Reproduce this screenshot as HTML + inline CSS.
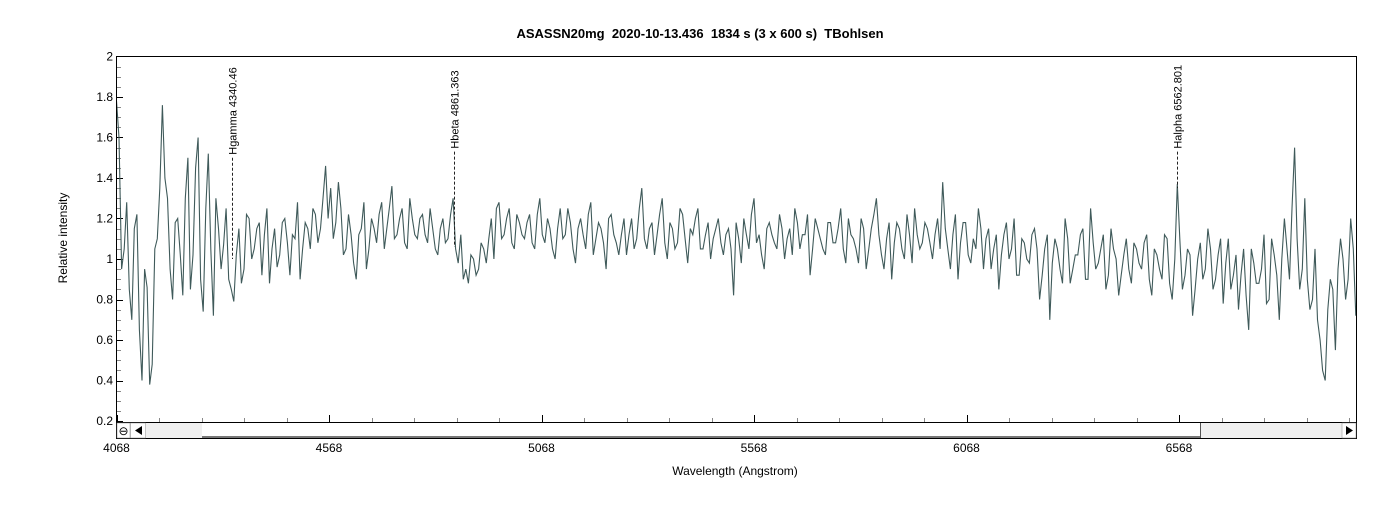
<!DOCTYPE html>
<html><head><meta charset="utf-8"><style>
body{margin:0;background:#fff;font-family:"Liberation Sans",sans-serif}
svg text{font-family:"Liberation Sans",sans-serif}
</style></head><body>
<svg id="c" width="1400" height="500" xmlns="http://www.w3.org/2000/svg">
<text x="700" y="38" text-anchor="middle" font-size="13" font-weight="bold" style="white-space:pre">ASASSN20mg  2020-10-13.436  1834 s (3 x 600 s)  TBohlsen</text>
<text transform="translate(67,238) rotate(-90)" text-anchor="middle" font-size="12">Relative intensity</text>
<text x="735" y="475" text-anchor="middle" font-size="12">Wavelength (Angstrom)</text>
<defs><clipPath id="pc"><rect x="117" y="57" width="1239" height="365"/></clipPath></defs>
<g id="axes"></g>
<g id="series" clip-path="url(#pc)"></g>
<g id="markers"></g>
<rect x="116.5" y="56.5" width="1240" height="382" fill="none" stroke="#000"/>
<g>
<line x1="116" y1="422.5" x2="1357" y2="422.5" stroke="#000"/>
<rect x="146" y="423" width="56" height="15" fill="#f0f0f0"/>
<rect x="1201" y="423" width="141" height="15" fill="#f0f0f0"/>
<line x1="202" y1="437" x2="1201" y2="437" stroke="#777" stroke-width="2"/>
<line x1="1200.5" y1="423" x2="1200.5" y2="438" stroke="#555"/>
<rect x="117" y="423" width="13" height="15" fill="#fff" stroke="#888" stroke-width="0.5"/>
<text x="123.5" y="435" text-anchor="middle" font-size="12">⊖</text>
<rect x="130.5" y="423" width="15" height="15" fill="#fff" stroke="#888" stroke-width="0.5"/>
<polygon points="135,430.5 142,426 142,435" fill="#000"/>
<rect x="1342" y="423" width="14" height="15" fill="#fff" stroke="#888" stroke-width="0.5"/>
<polygon points="1353,430.5 1346,426 1346,435" fill="#000"/>
</g>
</svg>
<script>
const wlStart = 4068;
const wlStep = 6;
const intensities = [
1.78,0.95,1.28,0.70,1.22,0.40,0.86,0.48,1.10,1.76,1.30,0.80,1.20,0.82,1.50,1.02,1.60,0.74,1.52,0.72,
1.15,1.07,0.90,0.79,1.15,0.95,1.20,1.05,1.18,1.12,0.88,1.15,1.02,1.20,0.92,1.10,0.90,1.18,1.05,1.22,
1.15,1.46,1.35,1.18,1.25,1.05,1.12,0.90,1.15,0.95,1.20,1.08,1.28,1.15,1.36,1.12,1.25,1.05,1.20,1.10,
1.22,1.08,1.15,1.02,1.20,1.10,1.30,0.98,0.90,0.88,1.00,0.95,1.05,1.10,1.00,1.28,1.12,1.25,1.05,1.18,
1.10,1.22,1.05,1.30,1.08,1.15,1.00,1.25,1.12,1.18,0.98,1.20,1.05,1.28,1.10,1.15,0.95,1.22,1.08,1.12,
1.02,1.20,1.10,1.35,1.05,1.18,1.12,1.30,1.00,1.15,1.08,1.22,0.98,1.12,1.25,1.05,1.18,1.10,1.20,1.02,
1.15,0.82,1.10,1.20,1.05,1.30,1.12,0.95,1.18,1.08,1.22,1.00,1.15,1.25,1.05,1.12,0.92,1.20,1.10,1.02,
1.18,1.08,1.25,0.98,1.12,1.05,1.20,0.95,1.15,1.30,1.02,1.10,0.90,1.18,1.05,1.22,0.98,1.12,1.08,1.15,
1.00,1.20,1.38,1.05,1.12,0.90,1.18,1.02,1.10,1.25,0.95,1.15,1.05,0.85,1.12,1.00,1.20,0.92,1.08,0.98,
1.15,0.80,1.05,0.70,1.10,0.95,1.20,0.88,1.02,1.12,0.90,1.25,0.95,1.05,0.85,1.15,1.00,0.92,1.10,0.88,
1.05,0.95,1.12,0.82,1.02,0.90,1.10,0.80,1.37,0.85,1.05,0.72,1.00,0.90,1.15,0.85,1.02,0.78,1.10,0.92,
0.75,1.05,0.65,0.98,0.88,1.12,0.80,1.02,0.70,1.20,0.90,1.55,0.85,1.30,0.75,1.05,0.60,0.40,0.90,0.55,
1.10,0.80,1.20,0.72
];
const intensitiesMid = [
1.60,1.05,0.85,1.15,0.65,0.95,0.38,1.05,1.35,1.40,0.95,1.18,1.02,1.30,0.85,1.45,0.90,1.25,1.05,1.30,
0.95,1.25,0.85,1.02,0.88,1.22,1.00,1.15,0.92,1.25,1.05,0.96,1.18,1.08,1.12,1.28,1.05,1.15,1.25,1.08,
1.30,1.20,1.10,1.38,1.02,1.22,0.98,1.12,1.28,1.05,1.15,1.22,1.05,1.25,1.10,1.20,1.08,1.30,1.12,1.20,
1.12,1.25,1.05,1.15,1.08,1.22,1.05,1.12,0.95,1.02,0.92,1.08,0.98,1.20,1.25,1.10,1.20,1.08,1.22,1.12,
1.18,1.08,1.22,1.12,1.20,1.05,1.15,1.10,1.25,1.05,1.15,1.12,1.22,1.02,1.18,1.08,1.20,1.12,1.02,1.20,
1.12,1.05,1.25,1.10,1.15,1.02,1.22,1.08,1.18,1.05,1.25,1.10,1.15,1.20,1.05,1.12,1.00,1.15,1.08,1.12,
1.05,1.18,0.98,1.12,1.22,1.08,1.02,1.15,1.12,1.05,1.15,1.10,1.02,1.18,1.12,1.22,1.05,1.15,1.05,1.18,
1.08,1.15,1.05,1.20,1.10,0.98,1.15,1.05,1.22,1.12,0.95,1.18,1.08,1.15,1.00,1.12,1.25,1.05,1.18,1.08,
1.12,1.05,1.15,0.95,1.22,1.08,1.18,0.98,1.05,1.15,1.10,0.95,1.12,1.02,1.18,1.05,0.92,1.10,1.00,1.12,
1.05,0.92,1.12,0.98,1.05,0.88,1.10,0.95,1.02,1.15,0.90,1.08,0.98,1.12,0.92,1.05,0.82,1.02,0.95,1.08,
0.98,1.08,0.90,1.05,0.95,1.12,0.88,1.00,1.10,0.92,1.02,0.85,1.08,0.95,1.05,0.90,1.10,0.98,0.85,1.02,
0.92,0.82,1.05,0.88,0.95,0.78,1.10,0.92,1.00,1.05,1.25,1.10,0.95,0.90,0.80,0.70,0.45,0.75,0.85,0.95,
1.00,0.90,1.05
];
const yTicks = [0.2,0.4,0.6,0.8,1,1.2,1.4,1.6,1.8,2];
const yTickLabels = ["0.2","0.4","0.6","0.8","1","1.2","1.4","1.6","1.8","2"];
const xTicks = [4068,4568,5068,5568,6068,6568];
const xTickLabels = ["4068","4568","5068","5568","6068","6568"];
const lineNames = ["Hgamma 4340.46","Hbeta 4861.363","Halpha 6562.801"];
const lineWl = [4340.46,4861.363,6562.801];
const lineTopVal = [1.5,1.53,1.53];
const lineBottomVal = [1.0,1.06,1.35];

const NS="http://www.w3.org/2000/svg";
const X0=116.5, PX=0.425;
const xs = w => X0 + (w-4068)*PX;
const ys = v => 259 - (v-1)*202.5;
function mk(tag, attrs, parent){const e=document.createElementNS(NS,tag);for(const k in attrs)e.setAttribute(k,attrs[k]);parent.appendChild(e);return e;}
const axes=document.getElementById('axes');
for(let v=0.2; v<=2.0001; v+=0.05){
  const y=Math.round(ys(v))+0.5;
  const major=Math.abs(v*5-Math.round(v*5))<1e-6;
  const t=mk('line',{x1:117,x2:major?123:121,y1:y,y2:y,stroke:major?'#000':'#888'},axes);
  
  
}
yTicks.forEach((v,i)=>{
  const t=mk('text',{x:113,y:ys(v)+4,'text-anchor':'end','font-size':12},axes);
  t.textContent=yTickLabels[i];
  
  
});
for(let w=4068; w<=6983; w+=100){
  const x=Math.round(xs(w))+0.5;
  const major=(w-4068)%500===0;
  const t=mk('line',{x1:x,x2:x,y1:422,y2:major?415:418,stroke:major?'#000':'#888'},axes);
  
  
}
xTicks.forEach((w,i)=>{
  const t=mk('text',{x:xs(w),y:452,'text-anchor':'middle','font-size':12},axes);
  t.textContent=xTickLabels[i];
  
  
});
const merged=[];
intensities.forEach((v,i)=>{merged.push(v); if(i<intensitiesMid.length) merged.push(intensitiesMid[i]);});
const pts=merged.map((v,i)=>xs(wlStart+i*wlStep).toFixed(1)+','+ys(v).toFixed(1)).join(' ');
const pl=mk('polyline',{points:pts,fill:'none',stroke:'#3f5a5a','stroke-width':1.1},document.getElementById('series'));


const mg=document.getElementById('markers');
lineWl.forEach((w,i)=>{
  const x=Math.round(xs(w))+0.5;
  const l=mk('line',{x1:x,x2:x,y1:ys(lineTopVal[i]),y2:ys(lineBottomVal[i]),stroke:'#222','stroke-dasharray':'3,2'},mg);
  
  
  const t=mk('text',{transform:`translate(${x+4},${ys(lineTopVal[i])-3}) rotate(-90)`,'font-size':11},mg);
  t.textContent=lineNames[i];
  
  
});
</script>
</body></html>
